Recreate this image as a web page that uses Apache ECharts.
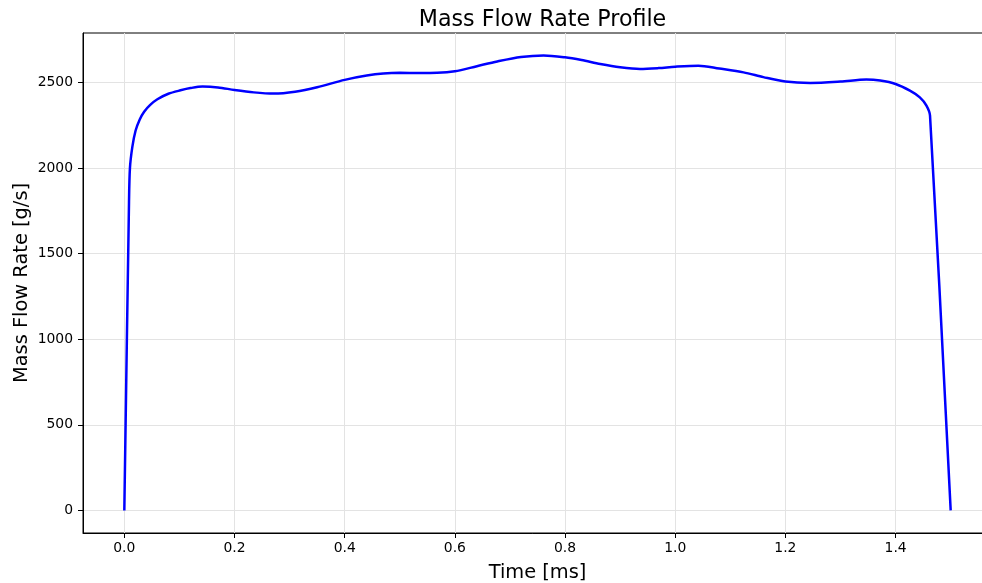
<!DOCTYPE html>
<html>
<head>
<meta charset="utf-8">
<script src="https://cdn.jsdelivr.net/npm/echarts@6/dist/echarts.min.js"></script>
<style>html,body{margin:0;padding:0;background:#fff}#c{width:982px;height:583px}</style>
</head>
<body>
<div id="c"></div>
<script>
const timeMs = [0, 0.0085, 0.0102, 0.0145, 0.0205, 0.028, 0.036, 0.047, 0.06, 0.08, 0.102, 0.12, 0.142, 0.17, 0.2, 0.235, 0.271, 0.31, 0.35, 0.4, 0.44, 0.47, 0.5, 0.535, 0.568, 0.6, 0.64, 0.677, 0.72, 0.761, 0.8, 0.83, 0.864, 0.9, 0.936, 0.97, 1.0, 1.042, 1.08, 1.124, 1.16, 1.2, 1.245, 1.3, 1.347, 1.372, 1.4, 1.426, 1.444, 1.456, 1.4625, 1.5];
const massFlow = [0, 1800, 2000, 2123, 2220, 2285, 2330, 2370, 2403, 2435, 2455, 2468, 2477, 2472, 2457, 2443, 2436, 2447, 2473, 2516, 2541, 2553, 2557, 2556, 2557, 2566, 2596, 2624, 2650, 2659, 2648, 2632, 2609, 2590, 2580, 2585, 2593, 2599, 2582, 2560, 2532, 2506, 2498, 2506, 2518, 2512, 2492, 2453, 2414, 2366, 2307, 0];
const xTicks = [0, 0.2, 0.4, 0.6, 0.8, 1.0, 1.2, 1.4];
const yTicks = [0, 500, 1000, 1500, 2000, 2500];

const font = 'DejaVu Sans';
const chart = echarts.init(document.getElementById('c'));
chart.setOption({
  animation: false,
  title: {
    text: 'Mass Flow Rate Profile',
    left: 537.5, textAlign: 'center', top: 4,
    textStyle: {fontFamily: font, fontSize: 22.2, fontWeight: 'normal', color: '#000'}
  },
  grid: {left: 83, right: -10, top: 33, bottom: 50, outerBoundsMode: 'none', containLabel: false,
         show: true, borderColor: '#000', borderWidth: 1, backgroundColor: 'transparent'},
  xAxis: {
    type: 'value', min: -0.075, max: 1.575,
    name: 'Time [ms]', nameLocation: 'middle', nameGap: 30, nameMoveOverlap: false,
    nameTextStyle: {fontFamily: font, fontSize: 19.4, color: '#000'},
    axisLine: {show: true, onZero: false, lineStyle: {color: '#000', width: 1}},
    axisTick: {show: true, inside: false, length: 5, customValues: xTicks, lineStyle: {color: '#000', width: 1}},
    axisLabel: {customValues: xTicks, margin: 8, fontFamily: font, fontSize: 13.9, color: '#000', formatter: v => v.toFixed(1)},
    splitLine: {show: true, lineStyle: {color: '#e3e3e3', width: 1}}
  },
  yAxis: {
    type: 'value', min: -132, max: 2790,
    name: 'Mass Flow Rate [g/s]', nameLocation: 'middle', nameGap: 52, nameMoveOverlap: false,
    nameTextStyle: {fontFamily: font, fontSize: 19.4, color: '#000'},
    axisLine: {show: true, onZero: false, lineStyle: {color: '#000', width: 1}},
    axisTick: {show: true, inside: false, length: 5, customValues: yTicks, lineStyle: {color: '#000', width: 1}},
    axisLabel: {customValues: yTicks, margin: 10, fontFamily: font, fontSize: 13.9, color: '#000', formatter: v => String(v)},
    splitLine: {show: true, lineStyle: {color: '#e3e3e3', width: 1}}
  },
  series: [{
    type: 'line',
    data: timeMs.map((t, i) => [t, massFlow[i]]),
    showSymbol: false, smooth: 0.3,
    lineStyle: {color: '#0000ff', width: 2.5},
    clip: true
  }]
});
</script>
</body>
</html>
